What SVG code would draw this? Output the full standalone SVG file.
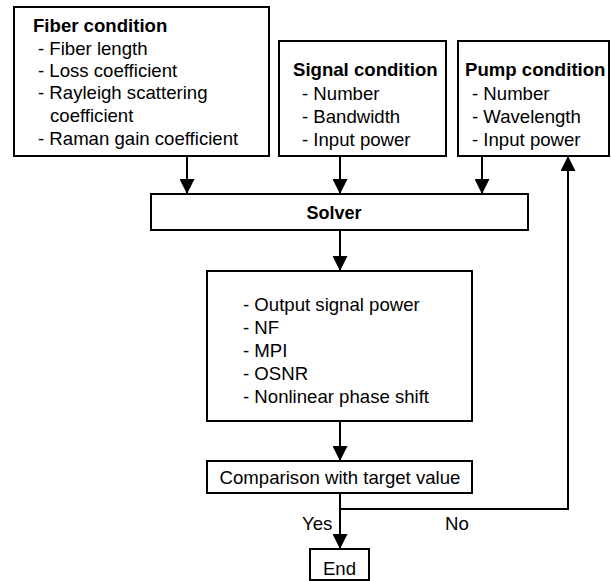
<svg xmlns="http://www.w3.org/2000/svg" width="611" height="581" viewBox="0 0 611 581">
  <style>
    .box { fill: #fff; stroke: #000; stroke-width: 2; }
    .t { font-family: "Liberation Sans", Arial, sans-serif; font-size: 18.6px; fill: #000; }
    .b { font-weight: bold; }
    .wire { fill: none; stroke: #000; stroke-width: 2; }
  </style>
  <defs>
    <marker id="arrow" viewBox="0 0 15 15" markerWidth="15" markerHeight="15" refX="15" refY="7.5" orient="auto" markerUnits="userSpaceOnUse">
      <path d="M0,0 L15,7.5 L0,15 z" fill="#000"/>
    </marker>
  </defs>

  <rect width="611" height="581" fill="#fff"/>

  <g id="connectors">
    <path class="wire" d="M187,156 V194" marker-end="url(#arrow)"/>
    <path class="wire" d="M340,156 V194" marker-end="url(#arrow)"/>
    <path class="wire" d="M482,156 V194" marker-end="url(#arrow)"/>
    <path class="wire" d="M340,230 V271" marker-end="url(#arrow)"/>
    <path class="wire" d="M340,421 V461" marker-end="url(#arrow)"/>
    <path class="wire" d="M340,493 V549" marker-end="url(#arrow)"/>
    <path class="wire" d="M340,509 H568 V156" marker-end="url(#arrow)"/>
    <text class="t" x="302" y="530">Yes</text>
    <text class="t" x="445" y="530">No</text>
  </g>

  <g id="fiber-condition">
    <rect class="box" x="14" y="7" width="255" height="149"/>
    <text class="t b" x="33" y="32">Fiber condition</text>
    <text class="t" x="38" y="55">- Fiber length</text>
    <text class="t" x="38" y="77">- Loss coefficient</text>
    <text class="t" x="38" y="99">- Rayleigh scattering</text>
    <text class="t" x="50" y="122">coefficient</text>
    <text class="t" x="38" y="145">- Raman gain coefficient</text>
  </g>

  <g id="signal-condition">
    <rect class="box" x="279" y="41" width="167" height="115"/>
    <text class="t b" x="293" y="76">Signal condition</text>
    <text class="t" x="302" y="100">- Number</text>
    <text class="t" x="302" y="123">- Bandwidth</text>
    <text class="t" x="302" y="146">- Input power</text>
  </g>

  <g id="pump-condition">
    <rect class="box" x="458" y="41" width="151" height="115"/>
    <text class="t b" x="465" y="76">Pump condition</text>
    <text class="t" x="472" y="100">- Number</text>
    <text class="t" x="472" y="123">- Wavelength</text>
    <text class="t" x="472" y="146">- Input power</text>
  </g>

  <g id="solver">
    <rect class="box" x="151" y="194" width="377" height="36"/>
    <text class="t b" x="334" y="219" text-anchor="middle" style="font-size:18px">Solver</text>
  </g>

  <g id="results">
    <rect class="box" x="207" y="271" width="265" height="150"/>
    <text class="t" x="243" y="311">- Output signal power</text>
    <text class="t" x="243" y="334">- NF</text>
    <text class="t" x="243" y="357">- MPI</text>
    <text class="t" x="243" y="380">- OSNR</text>
    <text class="t" x="243" y="403">- Nonlinear phase shift</text>
  </g>

  <g id="comparison">
    <rect class="box" x="207" y="461" width="265" height="32"/>
    <text class="t" x="340" y="484" text-anchor="middle">Comparison with target value</text>
  </g>

  <g id="end">
    <rect class="box" x="310" y="549" width="59" height="31"/>
    <text class="t" x="339.5" y="575" text-anchor="middle">End</text>
  </g>
</svg>
